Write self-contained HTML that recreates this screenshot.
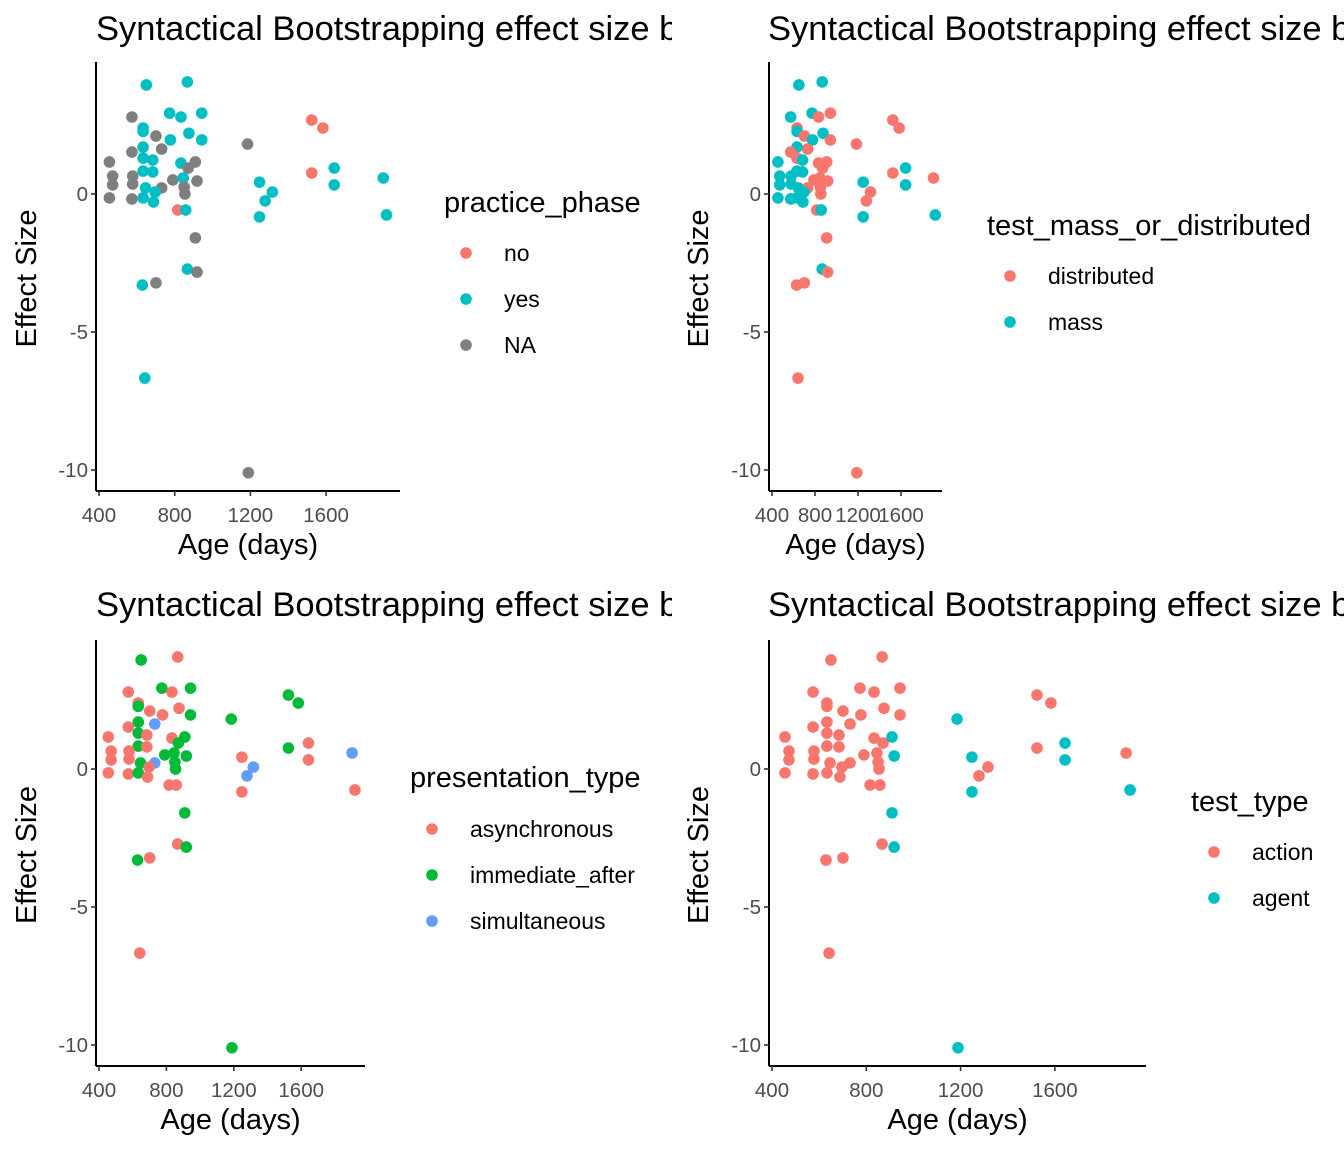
<!DOCTYPE html>
<html><head><meta charset="utf-8"><style>
body{margin:0;background:#fff;width:1344px;height:1152px;overflow:hidden;font-family:"Liberation Sans",Arial,sans-serif}
svg{position:absolute}
text{font-family:"Liberation Sans",Arial,sans-serif}
</style></head><body>
<svg id="p1" style="left:0;top:0" width="672" height="576"></svg>
<svg id="p2" style="left:672px;top:0" width="672" height="576"></svg>
<svg id="p3" style="left:0;top:576px" width="672" height="576"></svg>
<svg id="p4" style="left:672px;top:576px" width="672" height="576"></svg>
<script>
const ages=[650,867,574,773,833,943,633,633,701,875,943,777,731,633,574,455,633,684,633,684,833,871,472,472,578,578,790,845,850,646,731,697,455,574,633,688,854,816,858,867,629,701,1278,1316,909,918,1185,1248,1248,909,918,1524,1583,1524,1902,642,1189,1643,1643,1919];
const effects=[3.95,4.06,2.79,2.93,2.79,2.93,2.39,2.27,2.10,2.2,1.96,1.96,1.63,1.7,1.52,1.16,1.3,1.23,0.83,0.80,1.12,0.94,0.65,0.33,0.65,0.36,0.51,0.58,0.25,0.22,0.22,0.07,-0.14,-0.18,-0.14,-0.29,0,-0.58,-0.58,-2.72,-3.3,-3.22,-0.25,0.07,1.16,0.47,1.81,0.43,-0.83,-1.59,-2.83,2.68,2.39,0.76,0.58,-6.67,-10.1,0.94,0.33,-0.76];
const practice=[1,1,2,1,1,1,1,1,2,1,1,1,2,1,2,2,1,1,1,1,1,2,2,2,2,2,2,1,2,1,2,1,2,2,1,1,2,0,1,1,1,2,1,1,2,2,2,1,1,2,2,0,0,0,1,1,2,1,1,1];
const massDist=[1,1,1,1,0,0,0,1,0,1,0,1,0,1,0,1,0,1,1,1,0,0,1,1,1,1,0,0,0,1,0,1,1,1,1,1,0,0,1,1,0,0,0,0,0,0,0,1,1,0,0,0,0,0,0,0,0,1,1,1];
const presType=[1,0,0,1,0,1,0,1,0,0,1,0,2,1,0,0,1,0,1,0,0,1,0,0,0,0,1,1,1,1,2,0,0,0,1,0,1,0,0,0,1,0,2,2,1,1,1,0,0,1,1,1,1,1,2,0,1,0,0,0];
const testType=[0,0,0,0,0,0,0,0,0,0,0,0,0,0,0,0,0,0,0,0,0,0,0,0,0,0,0,0,0,0,0,0,0,0,0,0,0,0,0,0,0,0,0,0,1,1,1,1,1,1,1,0,0,0,0,0,1,1,1,1];
const xTicks=[400,800,1200,1600];
const yTicks=[0,-5,-10];
const NS="http://www.w3.org/2000/svg";
function mk(svg,tag,at,txt){const e=document.createElementNS(NS,tag);for(const k in at)e.setAttribute(k,at[k]);if(txt!==undefined)e.textContent=txt;svg.appendChild(e);return e;}
const panels=[
 {id:'p1',cat:practice,x1:96,x2:400,px400:99,ppu:75.7/400,y0:194,yTop:62,yBot:491,leg:{title:'practice_phase',tx:444,ty:212,dx:466,lx:504,ys:[253,299,345]},labels:['no','yes','NA'],cols:['#F8766D','#00BFC4','#7F7F7F']},
 {id:'p2',cat:massDist,x1:97,x2:270,px400:100,ppu:43/400,y0:194,yTop:62,yBot:491,leg:{title:'test_mass_or_distributed',tx:315,ty:235,dx:338,lx:376,ys:[276,322]},labels:['distributed','mass'],cols:['#F8766D','#00BFC4']},
 {id:'p3',cat:presType,x1:96,x2:365,px400:99,ppu:67.4/400,y0:193,yTop:64,yBot:490,leg:{title:'presentation_type',tx:410,ty:211,dx:432,lx:470,ys:[253,299,345]},labels:['asynchronous','immediate_after','simultaneous'],cols:['#F8766D','#00BA38','#619CFF']},
 {id:'p4',cat:testType,x1:97,x2:474,px400:100,ppu:94.3/400,y0:193,yTop:64,yBot:490,leg:{title:'test_type',tx:519,ty:235,dx:542,lx:580,ys:[276,322]},labels:['action','agent'],cols:['#F8766D','#00BFC4']}
];
const ppe=27.6;
panels.forEach(p=>{
 const s=document.getElementById(p.id);
 const xs=a=>p.px400+(a-400)*p.ppu;
 const ys=v=>p.y0-v*ppe;
 const t=mk(s,'text',{x:96,y:40,'font-size':34.5,fill:'#000'},'Syntactical Bootstrapping effect size by');
 
 
 ages.forEach((a,i)=>{
  const c=mk(s,'circle',{cx:xs(a),cy:ys(effects[i]),r:5.8,fill:p.cols[p.cat[i]]});
  
  
 });
 mk(s,'line',{x1:p.x1,x2:p.x1,y1:p.yTop,y2:p.yBot,stroke:'#000','stroke-width':2});
 mk(s,'line',{x1:p.x1,x2:p.x2,y1:p.yBot,y2:p.yBot,stroke:'#000','stroke-width':2});
 yTicks.forEach(v=>{
  mk(s,'line',{x1:p.x1-5,x2:p.x1,y1:ys(v),y2:ys(v),stroke:'#333','stroke-width':1.6});
  const l=mk(s,'text',{x:p.x1-8,y:ys(v)+7,'font-size':20.5,fill:'#4d4d4d','text-anchor':'end'},String(v));
  
  
 });
 xTicks.forEach(v=>{
  mk(s,'line',{x1:xs(v),x2:xs(v),y1:p.yBot,y2:p.yBot+5,stroke:'#333','stroke-width':1.6});
  const l=mk(s,'text',{x:xs(v),y:p.yBot+31,'font-size':20.5,fill:'#4d4d4d','text-anchor':'middle'},String(v));
  
  
 });
 const xl=mk(s,'text',{x:(p.x1+p.x2)/2,y:p.yBot+63,'font-size':29,fill:'#000','text-anchor':'middle'},'Age (days)');
 
 
 const yc=(p.yTop+p.yBot)/2;
 const yl=mk(s,'text',{x:0,y:0,'font-size':29,fill:'#000','text-anchor':'middle',transform:`translate(36,${yc+2}) rotate(-90)`},'Effect Size');
 
 
 const lt=mk(s,'text',{x:p.leg.tx,y:p.leg.ty,'font-size':29,fill:'#000'},p.leg.title);
 
 
 p.labels.forEach((lab,k)=>{
  const c=mk(s,'circle',{cx:p.leg.dx,cy:p.leg.ys[k],r:5.8,fill:p.cols[k]});
  
  
  const tx=mk(s,'text',{x:p.leg.lx,y:p.leg.ys[k]+8,'font-size':23,fill:'#000'},lab);
  
  
 });
});
</script>
</body></html>
